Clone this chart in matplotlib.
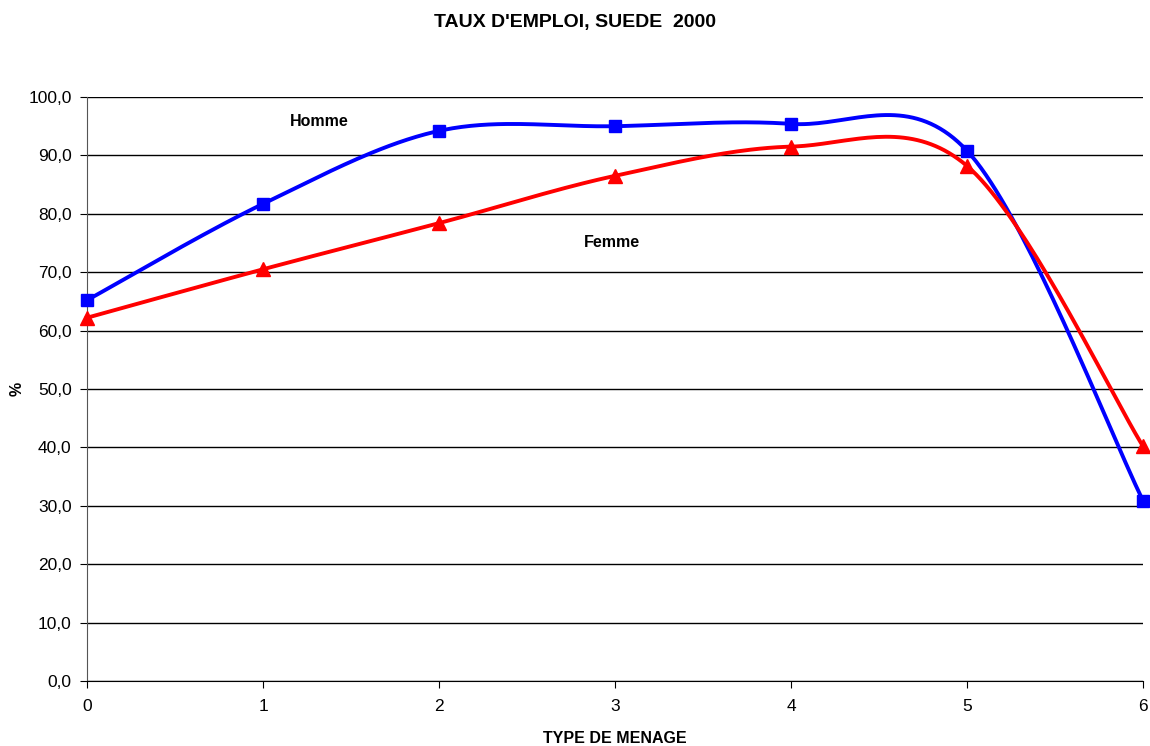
import numpy as np
import matplotlib.pyplot as plt

# taux d'emploi par type de ménage
types = [0, 1, 2, 3, 4, 5, 6]
homme = [65.2, 81.7, 94.2, 95.0, 95.4, 90.8, 30.9]
femme = [62.2, 70.5, 78.4, 86.5, 91.5, 88.2, 40.2]
yticks = np.arange(0, 101, 10)


def lisse(x, y, n=40):
    # courbe lissée façon tableur (Bezier / Catmull-Rom)
    x = np.asarray(x, float)
    y = np.asarray(y, float)
    px = np.concatenate([[x[0]], x, [x[-1]]])
    py = np.concatenate([[y[0]], y, [y[-1]]])
    xs, ys = [], []
    t = np.linspace(0, 1, n)
    for i in range(1, len(px) - 2):
        p0 = np.array([px[i], py[i]])
        p3 = np.array([px[i + 1], py[i + 1]])
        p1 = p0 + (np.array([px[i + 1], py[i + 1]]) - np.array([px[i - 1], py[i - 1]])) / 6
        p2 = p3 - (np.array([px[i + 2], py[i + 2]]) - np.array([px[i], py[i]])) / 6
        b = ((1 - t) ** 3)[:, None] * p0 + (3 * (1 - t) ** 2 * t)[:, None] * p1 \
            + (3 * (1 - t) * t ** 2)[:, None] * p2 + (t ** 3)[:, None] * p3
        xs.extend(b[:, 0])
        ys.extend(b[:, 1])
    return xs, ys


plt.rcParams['font.family'] = ['Liberation Sans', 'DejaVu Sans']
fig = plt.figure(figsize=(11.5, 7.46), dpi=100)
ax = fig.add_axes([87 / 1150, 65 / 746, 1056 / 1150, 584 / 746])

xh, yh = lisse(types, homme)
xf, yf = lisse(types, femme)
ax.plot(xh, yh, color='#0000ff', lw=2.8, zorder=3, clip_on=False)
ax.plot(xf, yf, color='#ff0000', lw=2.8, zorder=3, clip_on=False)
ax.plot(types, homme, 's', color='#0000ff', ms=9, zorder=4, clip_on=False)
ax.plot(types, femme, '^', color='#ff0000', ms=10, zorder=4, clip_on=False)

ax.set_xlim(0, 6)
ax.set_ylim(0, 100)
ax.set_xticks(types)
ax.set_yticks(yticks)
ax.set_yticklabels([f'{v:.1f}'.replace('.', ',') for v in yticks])
ax.grid(axis='y', color='black', lw=1)
ax.set_axisbelow(True)
for s in ['top', 'right']:
    ax.spines[s].set_visible(False)
ax.spines['left'].set_color('#555555')
ax.spines['bottom'].set_color('black')
ax.tick_params(labelsize=12.5, length=5, direction='out', pad=6)
ax.tick_params(axis='x', pad=8)

ax.text(1.32, 95.0, 'Homme', fontsize=11.5, fontweight='bold', ha='center')
ax.text(2.98, 74.4, 'Femme', fontsize=11.5, fontweight='bold', ha='center')

ax.set_xlabel('TYPE DE MENAGE', fontsize=11.5, fontweight='bold')
ax.xaxis.set_label_coords(0.5, -50 / 584)
ax.set_ylabel('%', fontsize=11.5, fontweight='bold')
ax.yaxis.set_label_coords(-62 / 1056, 0.5)
fig.text(0.5, 1 - 22 / 746, "TAUX D'EMPLOI, SUEDE  2000", fontsize=14,
         fontweight='bold', ha='center', va='center')

fig.savefig('out.png', dpi=100)
